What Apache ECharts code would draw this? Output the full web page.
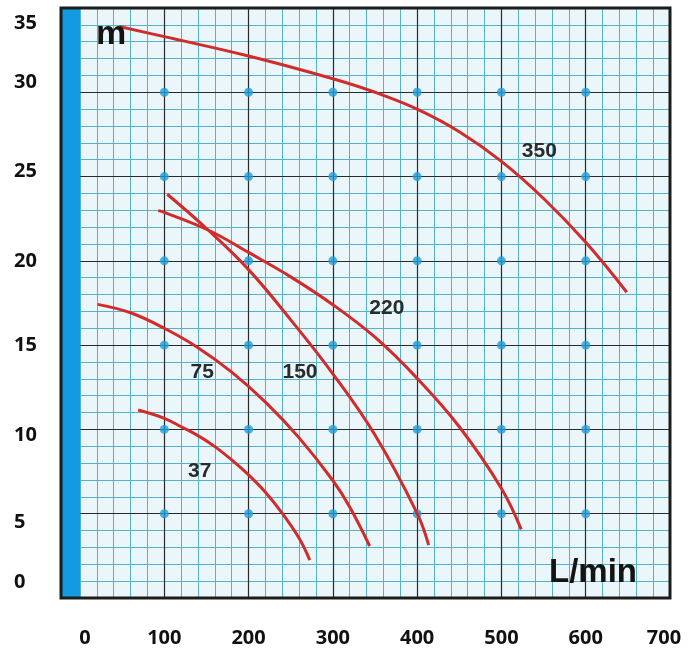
<!DOCTYPE html>
<html>
<head>
<meta charset="utf-8">
<script src="https://cdn.jsdelivr.net/npm/echarts@6/dist/echarts.min.js"></script>
<style>
html,body{margin:0;padding:0;background:#fff;}
#c{width:696px;height:650px;}
</style>
</head>
<body>
<div id="c"></div>
<script>
// ---- data ----
const curveNames = ['350', '220', '150', '75', '37'];
const q350 = [46.6, 100, 200, 300, 350, 400, 450, 500, 550, 600, 648.7];
const h350 = [33.9, 33.3, 32.15, 30.8, 30.0, 29.0, 27.66, 25.9, 23.7, 21.1, 18.14];
const q220 = [92.8, 100, 152, 200, 250, 300, 350, 400, 450, 500, 523.5];
const h220 = [22.98, 22.88, 21.83, 20.5, 19.05, 17.4, 15.47, 13.03, 10.16, 6.5, 4.07];
const q150 = [103.5, 152, 200, 250, 300, 350, 400, 413.7];
const h150 = [23.95, 21.83, 19.48, 16.5, 13.3, 9.67, 5.02, 3.14];
const q75 = [21, 60, 100, 140, 180, 220, 260, 300, 320, 343.7];
const h75 = [17.42, 16.92, 16.0, 14.85, 13.4, 11.62, 9.5, 6.97, 5.4, 3.08];
const q37 = [69, 100, 120, 140, 160, 180, 200, 220, 240, 260, 272.6];
const h37 = [11.15, 10.66, 10.16, 9.63, 8.98, 8.19, 7.3, 6.27, 5.02, 3.54, 2.25];
// curve label anchors (data units)
const labelQ = [545, 364, 261, 145, 142];
const labelH = [26.5, 17.2, 13.4, 13.4, 7.5];
// grid dots
const dotQ = [100, 200, 300, 400, 500, 600];
const dotH = [5, 10, 15, 20, 25, 30];
// tick labels
const xTicks = [0, 100, 200, 300, 400, 500, 600, 700];
const yTicks = [0, 5, 10, 15, 20, 25, 30, 35];
const xName = 'L/min';
const yName = 'm';

const curvesQ = [q350, q220, q150, q75, q37];
const curvesH = [h350, h220, h150, h75, h37];

// ---- styling ----
const RED = '#d12b2b';
const MINOR = '#53b3c9';
const MAJOR = '#2a2a2a';
const labelFont = {fontFamily: 'Open Sans', fontWeight: 'bold', fontSize: 20, color: '#111'};
// small visual nudges of the printed tick labels (px padding), as in the original artwork
const yNudge = {35: [30, 0], 30: [0, 20], 25: [0, 10], 10: [12, 0], 5: [18, 0], 0: [0, 32]};
const xNudge = {0: [10, 0], 700: [0, 12]};

const yRich = {}, xRich = {};
Object.keys(yNudge).forEach(k => {
  yRich['y' + k] = Object.assign({padding: [yNudge[k][0], 0, yNudge[k][1], 0]}, labelFont);
});
Object.keys(xNudge).forEach(k => {
  xRich['x' + k] = Object.assign({padding: [0, xNudge[k][1], 0, xNudge[k][0]]}, labelFont);
});

const chart = echarts.init(document.getElementById('c'), null, {renderer: 'canvas'});

const dots = [];
dotQ.forEach(q => dotH.forEach(h => dots.push([q, h])));

const series = curveNames.map((name, i) => ({
  type: 'line',
  name: name,
  xAxisIndex: 0, yAxisIndex: 0,
  data: curvesQ[i].map((q, j) => [q, curvesH[i][j]]),
  smooth: 0.4,
  showSymbol: false,
  lineStyle: {color: RED, width: 3},
  z: 5,
  markPoint: {
    symbol: 'circle', symbolSize: 0,
    label: {show: true, position: 'inside', formatter: name,
      fontFamily: 'Liberation Sans', fontWeight: 'bold', fontSize: 21, color: '#2b2b2b'},
    data: [{coord: [labelQ[i], labelH[i]]}]
  }
}));
series.push({
  type: 'scatter',
  xAxisIndex: 0, yAxisIndex: 0,
  data: dots,
  symbolSize: 9,
  itemStyle: {color: '#1f9ed8'},
  z: 4
});

const gridBase = {top: 8, bottom: 52, outerBoundsMode: 'none', containLabel: false};

chart.setOption({
  animation: false,
  backgroundColor: '#ffffff',
  grid: [
    Object.assign({left: 80, right: 26, show: true, backgroundColor: '#eaf6fa', borderWidth: 0}, gridBase),
    Object.assign({left: 62, width: 18, show: true, backgroundColor: '#129be0', borderWidth: 0}, gridBase),
    Object.assign({left: 61, right: 26, show: true, backgroundColor: 'transparent', borderWidth: 3, borderColor: '#1c1c1c', z: 20}, gridBase)
  ],
  xAxis: [
    {type: 'value', gridIndex: 0, position: 'bottom', min: 0, max: 700, interval: 20,
      axisLine: {show: false}, axisTick: {show: false}, axisLabel: {show: false},
      splitLine: {show: true, lineStyle: {color: MINOR, width: 1}}, z: 1},
    {type: 'value', gridIndex: 0, position: 'bottom', min: 0, max: 700, interval: 100,
      axisLine: {show: false}, axisTick: {show: false},
      axisLabel: Object.assign({show: true, margin: 30, customValues: xTicks, rich: xRich,
        formatter: v => (xNudge[v] ? '{x' + v + '|' + v + '}' : String(v))}, labelFont),
      splitLine: {show: true, showMinLine: false, showMaxLine: false, lineStyle: {color: MAJOR, width: 1.2}}, z: 2}
  ],
  yAxis: [
    {type: 'value', gridIndex: 0, position: 'left', min: 0, max: 35, interval: 1,
      axisLine: {show: false}, axisTick: {show: false}, axisLabel: {show: false},
      splitLine: {show: true, lineStyle: {color: MINOR, width: 1}}, z: 1},
    {type: 'value', gridIndex: 0, position: 'left', min: 0, max: 35, interval: 5,
      axisLine: {show: false}, axisTick: {show: false},
      axisLabel: Object.assign({show: true, margin: 66, align: 'left', customValues: yTicks, rich: yRich,
        formatter: v => (yNudge[v] ? '{y' + v + '|' + v + '}' : String(v))}, labelFont),
      splitLine: {show: true, showMinLine: false, showMaxLine: false, lineStyle: {color: MAJOR, width: 1.2}}, z: 2}
  ],
  graphic: [
    {type: 'text', left: 96, top: 18, z: 30,
      style: {text: yName, fontFamily: 'Liberation Sans', fontWeight: 'bold', fontSize: 34, fill: '#141414'}},
    {type: 'text', left: 549, top: 556, z: 30,
      style: {text: xName, fontFamily: 'Liberation Sans', fontWeight: 'bold', fontSize: 33, fill: '#141414'}}
  ],
  series: series
});
</script>
</body>
</html>
